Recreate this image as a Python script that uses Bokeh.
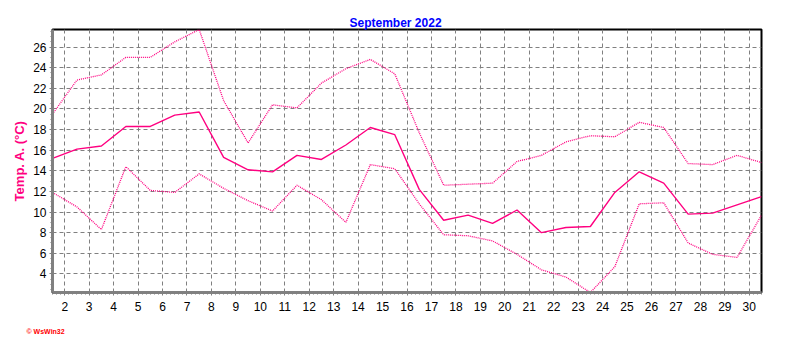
from bokeh.plotting import figure
from bokeh.models import Range1d, FixedTicker, Title, ColumnDataSource
from bokeh.embed import file_html
from bokeh.resources import INLINE

# ---- data ----
days = list(range(1, 31))
high = [19.5, 22.8, 23.3, 25.0, 25.0, 26.5, 27.7, 20.8, 16.7, 20.4,
        20.1, 22.5, 23.9, 24.8, 23.4, 17.7, 12.6, 12.7, 12.8, 14.9,
        15.5, 16.8, 17.4, 17.3, 18.7, 18.2, 14.7, 14.6, 15.5, 14.8]
mean = [15.2, 16.1, 16.4, 18.3, 18.3, 19.4, 19.7, 15.3, 14.1, 13.9,
        15.5, 15.1, 16.5, 18.2, 17.5, 12.2, 9.2, 9.7, 8.9, 10.2,
        8.0, 8.5, 8.6, 11.9, 13.9, 12.8, 9.8, 9.9, 10.7, 11.5]
low = [11.9, 10.5, 8.3, 14.4, 12.1, 11.9, 13.7, 12.3, 11.1, 10.1,
       12.6, 11.2, 9.0, 14.6, 14.2, 10.8, 7.8, 7.7, 7.2, 5.9,
       4.4, 3.7, 2.2, 4.7, 10.8, 10.9, 7.0, 5.9, 5.6, 9.7]
x_ticks = list(range(2, 31))
y_ticks = list(range(4, 27, 2))
title_text = "September 2022"
y_label = "Temp. A. (°C)"
credit = "© WsWin32"

# points sit at the middle of each day (day + 0.5)
xs = [d + 0.5 for d in days]
src = ColumnDataSource(dict(x=xs, high=high, mean=mean, low=low))

LINE = "#FF0080"
GRID = "#808080"
FONT = "Liberation Sans"

p = figure(frame_width=709, frame_height=263,
           min_border_left=52, min_border_top=29, min_border_right=15, min_border_bottom=42,
           x_range=Range1d(min(xs), max(xs)),
           y_range=Range1d(min(low), max(high)),
           output_backend="svg", toolbar_location=None,
           background_fill_color="white", border_fill_color="white")

p.outline_line_color = "black"
p.outline_line_width = 2

xminor = [t + k / 6 for t in [1] + x_ticks for k in range(1, 6)] + [t + 0.0 for t in x_ticks]
yminor = [t / 2 for t in range(5, 56)]
p.xaxis.ticker = FixedTicker(ticks=x_ticks, minor_ticks=xminor)
p.yaxis.ticker = FixedTicker(ticks=y_ticks, minor_ticks=yminor)

for ax in (p.xaxis[0], p.yaxis[0]):
    ax.axis_line_color = GRID
    ax.axis_line_width = 3
    ax.major_tick_line_color = GRID
    ax.minor_tick_line_color = GRID
    ax.major_tick_in = 0
    ax.major_tick_out = 3
    ax.minor_tick_in = 0
    ax.minor_tick_out = 2
    ax.major_label_text_font = FONT
    ax.major_label_text_font_size = "12px"
    ax.major_label_text_color = "black"

p.xaxis.major_label_standoff = 6
p.yaxis.major_label_standoff = 3
p.yaxis.axis_label = y_label
p.yaxis.axis_label_text_font = FONT
p.yaxis.axis_label_text_font_style = "bold"
p.yaxis.axis_label_text_font_size = "13px"
p.yaxis.axis_label_text_color = LINE
p.yaxis.axis_label_standoff = 3

for g in (p.xgrid[0], p.ygrid[0]):
    g.grid_line_color = GRID
    g.grid_line_dash = "4 3"
    g.grid_line_width = 1

p.line("x", "high", source=src, line_color=LINE, line_width=1.3, line_dash="1 1")
p.line("x", "low", source=src, line_color=LINE, line_width=1.3, line_dash="1 1")
p.line("x", "mean", source=src, line_color=LINE, line_width=1.4)

p.title.text = title_text
p.title.align = "left"
p.title.offset = 297
p.title.standoff = 0
p.title.text_font = FONT
p.title.text_font_style = "bold"
p.title.text_font_size = "12px"
p.title.text_color = "#0000FF"

p.add_layout(Title(text=credit, align="left", offset=-26, standoff=24,
                   text_font=FONT, text_font_style="bold", text_font_size="7px",
                   text_color="#FF0000"), "below")

open("out.html", "w").write(file_html(p, INLINE))
